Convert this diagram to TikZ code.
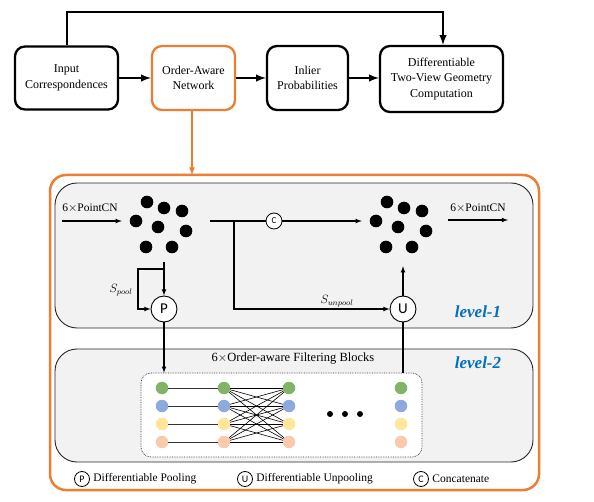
\documentclass[tikz,border=0pt]{standalone}
\usepackage{amsmath}
\usepackage{fontspec}
\setmainfont{Liberation Serif}
\newfontfamily\cfont{Carlito}
\usepackage{tikz}
\definecolor{orng}{HTML}{ED7D31}
\definecolor{lvl}{HTML}{0070C0}
\definecolor{cg}{HTML}{82B366}
\definecolor{cb}{HTML}{8EA9DB}
\definecolor{cy}{HTML}{FFE699}
\definecolor{cp}{HTML}{F8CBAD}

\begin{document}
\begin{tikzpicture}[x=1pt,y=-1pt,>=latex]
      \tikzstyle{box}=[rectangle,rounded corners=10pt,draw=black,line width=2.3pt,align=center,font=\fontsize{12}{15.5}\selectfont];
      \tikzstyle{bigarr}=[->,line width=2.3pt];
      \tikzstyle{arr}=[->,line width=1.1pt];
      \tikzstyle{ln}=[line width=1.1pt];
      \tikzstyle{panel}=[rounded corners=22pt,draw=black!85,line width=0.9pt,fill=black!5];
      \tikzstyle{op}=[circle,draw=black,line width=0.9pt,fill=white,inner sep=0pt,minimum size=26pt,font=\cfont\fontsize{15}{15}\selectfont];
      \tikzstyle{cat}=[circle,draw=black,line width=0.8pt,fill=white,inner sep=0pt,minimum size=16pt,font=\cfont\fontsize{9}{9}\selectfont];
      \tikzstyle{lg}=[circle,draw=black,line width=0.8pt,inner sep=0pt,minimum size=15pt,font=\cfont\fontsize{10}{10}\selectfont];
      \tikzstyle{dot}=[circle,inner sep=0pt,minimum size=12.5pt];
      \tikzstyle{lbl}=[font=\fontsize{11.5}{12}\selectfont];
      \tikzstyle{lvtext}=[text=lvl,font=\fontsize{17}{17}\selectfont\bfseries\itshape];

      \useasboundingbox (0,0) rectangle (594,502);

      % top row
      \node[box,minimum width=103pt,minimum height=63pt](inp) at (66.5,78) {Input\\Correspondences};
      \node[box,draw=orng,minimum width=83pt,minimum height=64pt](oan) at (193.5,78) {Order-Aware\\Network};
      \node[box,minimum width=81pt,minimum height=64pt](inl) at (307.5,78) {Inlier\\Probabilities};
      \node[box,minimum width=123pt,minimum height=66pt](geo) at (441.5,79) {Differentiable\\Two-View Geometry\\Computation};

      \coordinate (t1) at (67,12);
      \coordinate (t2) at (443,12);
      \coordinate (ftop) at (0,175);

      \draw[bigarr] (inp) -- (oan);
      \draw[bigarr] (oan) -- (inl);
      \draw[bigarr] (inl) -- (geo.west |- inl);
      \draw[bigarr] (inp.north -| t1) -- (t1) -- (t2) -- (geo.north -| t2);
      \draw[bigarr,draw=orng,line width=1.6pt] (oan.south -| 192,0) -- (192,175);

      % frames
      \path[draw=orng,line width=2.5pt,rounded corners=16pt] (50,175) rectangle (539,490);
      \path[panel] (55,183) rectangle (533,328);
      \path[panel] (55,349) rectangle (533,462);

      % level-1
      \foreach \dx/\dy in {-14/-23,3/-17,21/-14,-25/-4,-3/2,25/6,-15/22,11/22}
      {
        \fill[shift={(161,225)}] (\dx,\dy) circle (6.3pt);
        \fill[shift={(401,225)}] (\dx,\dy) circle (6.3pt);
      }
      \node[minimum width=88pt,minimum height=70pt](L) at (166,227) {};
      \node[minimum width=86pt,minimum height=74pt](R) at (405,229) {};

      \node[cat](C) at (274,221) {C};
      \node[op](P) at (164,309) {P};
      \node[op](U) at (403,309) {U};

      \coordinate (i1) at (62,221);
      \coordinate (o1) at (508,220);
      \coordinate (br) at (234,221);
      \coordinate (pl) at (138,269);

      \draw[arr] (i1) -- (i1 -| L.west);
      \draw[arr] (R.east |- o1) -- (o1);
      \draw[ln] (L.east |- C) -- (C);
      \draw[arr] (C) -- (R.west |- C);
      \draw[arr] (br) -- (br |- U) -- (U);
      \draw[arr] (L.south -| P) -- (P);
      \draw[arr] (pl -| P) -- (pl) -- (pl |- P) -- (P);

      \node[lbl](pcn1) at (90,208) {6$\times$PointCN};
      \node[lbl](pcn2) at (478,208) {6$\times$PointCN};
      \node[font=\fontsize{12}{12}\selectfont](sp) at (121,290) {$S_{pool}$};
      \node[font=\fontsize{12}{12}\selectfont](su) at (337,301) {$S_{unpool}$};
      \node[lvtext](lv1) at (478,312) {level-1};

      % level-2
      \node[rectangle,rounded corners=10pt,draw=black!80,densely dotted,line width=0.7pt,fill=white,minimum width=281pt,minimum height=84pt](blk) at (281.5,415) {};
      \node[font=\fontsize{12.5}{13}\selectfont](ofb) at (293,359) {6$\times$Order-aware Filtering Blocks};
      \node[lvtext](lv2) at (478,363) {level-2};

      \draw[arr] (P) -- (P |- blk.north);
      \draw[ln] (U |- blk.north) -- (U);
      \draw[arr] (U) -- (R.south -| U);

      \foreach \c/\x in {1/162,2/224,3/289,4/401}
        \foreach \r/\y/\col in {1/388/cg,2/406/cb,3/424/cy,4/442/cp}
          \node[dot,fill=\col](d\c\r) at (\x,\y) {};
      \foreach \r in {1,...,4}
        \draw[line width=0.8pt,black!80] (d1\r) -- (d2\r);
      \foreach \r in {1,...,4}
        \foreach \s in {1,...,4}
          \draw[line width=0.6pt] (d2\r) -- (d3\s);
      \foreach \x in {330,345,360}
        \fill (\x,414) circle (3pt);

      % legend
      \node[lg](lp) at (82,479) {P};
      \node[lg](lu) at (245,479) {U};
      \node[lg](lc) at (421,479) {C};
      \node[lbl,anchor=west](tp) at (lp.east) {Differentiable Pooling};
      \node[lbl,anchor=west](tu) at (lu.east) {Differentiable Unpooling};
      \node[lbl,anchor=west](tc) at (lc.east) {Concatenate};

    \end{tikzpicture}
\end{document}
